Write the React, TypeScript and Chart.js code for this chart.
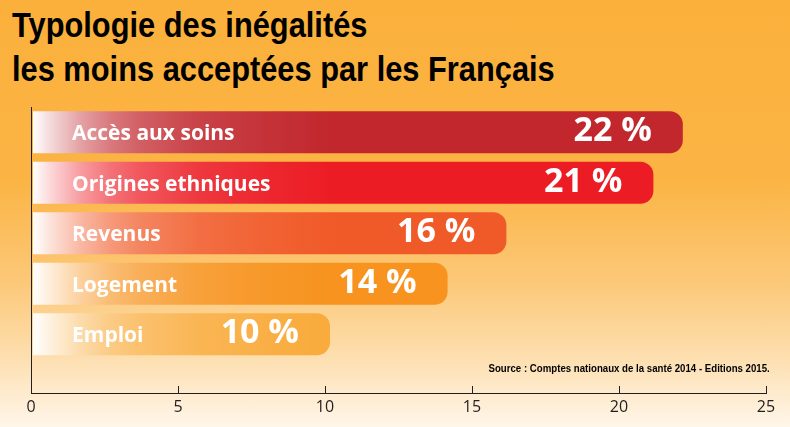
import React, { useEffect, useRef } from 'react';
import { Chart, registerables } from 'chart.js';

Chart.register(...registerables);

const TITLE_LINES = ['Typologie des inégalités', 'les moins acceptées par les Français'];
const CATEGORIES = ['Accès aux soins', 'Origines ethniques', 'Revenus', 'Logement', 'Emploi'];
const VALUES = [22, 21, 16, 14, 10];
const BAR_COLORS = ['#c1272d', '#ec1c24', '#f05a28', '#f7931e', '#f9ab3b'];
const X_MIN = 0;
const X_MAX = 25;
const X_STEP = 5;
const SOURCE = 'Source : Comptes nationaux de la santé 2014 - Editions 2015.';

const W = 790;
const H = 427;

function hexToRgb(hex: string) {
  const h = hex.replace('#', '');
  return [parseInt(h.slice(0, 2), 16), parseInt(h.slice(2, 4), 16), parseInt(h.slice(4, 6), 16)];
}
function mixWhite(hex: string, t: number) {
  const [r, g, b] = hexToRgb(hex);
  const m = (c: number) => Math.round(255 + (c - 255) * t);
  return `rgb(${m(r)},${m(g)},${m(b)})`;
}

const GRAD_STOPS: [number, number][] = [
  [0, 0],
  [0.057, 0.17],
  [0.157, 0.43],
  [0.257, 0.62],
  [0.357, 0.74],
  [0.557, 0.88],
  [0.78, 0.95],
  [1, 1],
];

const upTicksPlugin = {
  id: 'upTicks',
  afterDraw(chart: any) {
    const xs = chart.scales.x;
    const { ctx, chartArea } = chart;
    ctx.save();
    ctx.strokeStyle = '#231f20';
    ctx.lineWidth = 1;
    xs.ticks.forEach((t: any) => {
      const px = Math.round(xs.getPixelForValue(t.value)) + 0.5;
      ctx.beginPath();
      ctx.moveTo(px, chartArea.bottom);
      ctx.lineTo(px, chartArea.bottom - 7);
      ctx.stroke();
    });
    ctx.restore();
  },
};

const barLabelsPlugin = {
  id: 'barLabels',
  afterDatasetsDraw(chart: any) {
    const { ctx, chartArea } = chart;
    const xs = chart.scales.x;
    const meta = chart.getDatasetMeta(0);
    ctx.save();
    ctx.fillStyle = '#ffffff';
    ctx.textBaseline = 'alphabetic';
    meta.data.forEach((bar: any, i: number) => {
      ctx.font = 'bold 21px "Open Sans"';
      ctx.textAlign = 'left';
      ctx.fillText(CATEGORIES[i], chartArea.left + 41, bar.y + 8);
      ctx.font = 'bold 34px "Open Sans"';
      ctx.textAlign = 'right';
      ctx.fillText(`${VALUES[i]} %`, xs.getPixelForValue(VALUES[i]) - 26, bar.y + 9);
    });
    ctx.restore();
  },
};

export default function App() {
  const canvasRef = useRef<HTMLCanvasElement | null>(null);

  useEffect(() => {
    if (!canvasRef.current) return;
    const chart = new Chart(canvasRef.current, {
      type: 'bar',
      data: {
        datasets: [
          {
            data: VALUES.map((v, i) => ({ x: v, y: i })),
            backgroundColor: (c: any) => {
              const chart = c.chart;
              const area = chart.chartArea;
              const color = BAR_COLORS[c.dataIndex] || BAR_COLORS[0];
              if (!area) return color;
              const g = chart.ctx.createLinearGradient(area.left + 2, 0, area.left + 302, 0);
              GRAD_STOPS.forEach(([p, t]) => g.addColorStop(p, mixWhite(color, t)));
              return g;
            },
            barThickness: 32,
            inflateAmount: 5,
            borderRadius: 13,
            borderSkipped: 'start',
            clip: { left: -2, top: false, right: false, bottom: false },
          } as any,
        ],
      },
      options: {
        indexAxis: 'y',
        animation: false,
        responsive: false,
        events: [],
        layout: { padding: { left: 31, right: 24, top: 107, bottom: 0 } },
        plugins: {
          legend: { display: false },
          tooltip: { enabled: false },
          title: { display: false },
        },
        scales: {
          x: {
            type: 'linear',
            min: X_MIN,
            max: X_MAX,
            ticks: {
              stepSize: X_STEP,
              color: '#231f20',
              font: { family: 'Open Sans', size: 16 },
              padding: 5,
            },
            grid: { display: true, drawOnChartArea: false, drawTicks: false },
            border: { display: true, color: '#231f20', width: 1 },
            afterFit: (s: any) => {
              s.height = 34;
            },
          },
          y: {
            type: 'linear',
            reverse: true,
            offset: false,
            min: -0.5,
            max: 5.163,
            ticks: { display: false },
            grid: { display: false, offset: false },
            border: { display: true, color: '#231f20', width: 1 },
            afterFit: (s: any) => {
              s.width = 0;
            },
          },
        },
      } as any,
      plugins: [upTicksPlugin, barLabelsPlugin],
    });
    return () => chart.destroy();
  }, []);

  return (
    <div
      style={{
        position: 'absolute',
        left: 0,
        top: 0,
        width: W,
        height: H,
        overflow: 'hidden',
        background:
          'linear-gradient(to bottom, #fbb03b 0%, #fbb444 42%, #fcc878 66%, #fddfb0 84%, #fff6ea 100%)',
      }}
    >
      <div
        style={{
          position: 'absolute',
          left: 12,
          top: 3,
          fontFamily: '"Liberation Sans Narrow", "Arial Narrow", "Liberation Sans", sans-serif',
          fontWeight: 'bold',
          fontSize: 35,
          lineHeight: '44px',
          color: '#000',
          whiteSpace: 'nowrap',
          transform: 'scaleX(0.88)',
          transformOrigin: 'left top',
        }}
      >
        {TITLE_LINES.map((l) => (
          <div key={l}>{l}</div>
        ))}
      </div>
      <canvas ref={canvasRef} width={W} height={H} style={{ position: 'absolute', left: 0, top: 0 }} />
      <div
        style={{
          position: 'absolute',
          right: 20,
          top: 361,
          fontFamily: '"Liberation Sans Narrow", "Arial Narrow", "Liberation Sans", sans-serif',
          fontWeight: 'bold',
          fontSize: 10.5,
          lineHeight: '14px',
          color: '#000',
          whiteSpace: 'nowrap',
          transform: 'scaleX(0.92)',
          transformOrigin: 'right top',
        }}
      >
        {SOURCE}
      </div>
    </div>
  );
}
